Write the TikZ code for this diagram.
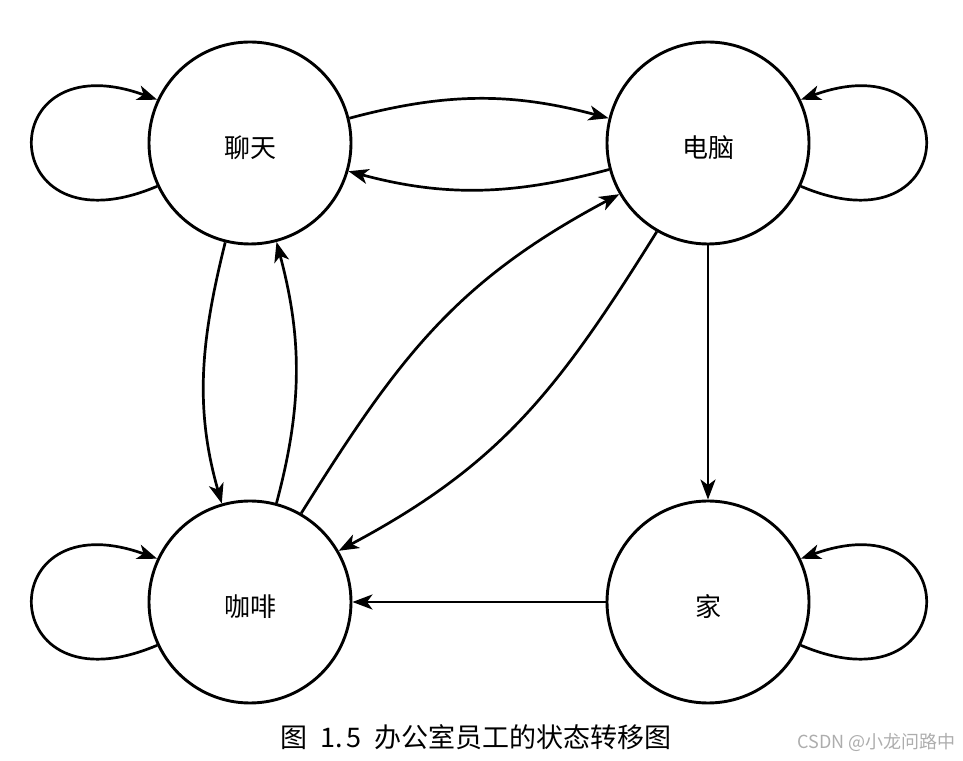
\documentclass[tikz,border=0pt]{standalone}
\usepackage{fontspec}
\newfontfamily\cjk{Noto Sans CJK SC}
\usetikzlibrary{arrows.meta}
\begin{document}
\begin{tikzpicture}[x=1pt,y=1pt,
  state/.style={circle, draw, line width=2.9pt, minimum size=202pt, inner sep=0pt,
    text height=30pt, text depth=0pt, font=\cjk\fontsize{26}{26}\selectfont},
  edge/.style={line width=2.7pt, -{Stealth[length=20pt,width=15pt,inset=5.5pt]}},
  caption/.style={font=\cjk\fontsize{27}{27}\selectfont}]
\useasboundingbox (0,0) rectangle (963,760);
\node[state] (A) at (250,617) {聊天};
\node[state] (B) at (708,617) {电脑};
\node[state] (C) at (250,158) {咖啡};
\node[state] (D) at (708,158) {家};
% between chat and computer
\draw[edge] (A.14) .. controls +(15:100) and +(165:100) .. (B.166);
\draw[edge] (B.195) .. controls +(195:100) and +(345:100) .. (A.344);
% chat <-> coffee
\draw[edge] (A.256) .. controls +(256:100) and +(106:100) .. (C.106);
\draw[edge] (C.75) .. controls +(75:100) and +(285:100) .. (A.285);
% coffee <-> computer
\draw[edge] (C.60) .. controls +(58:185) and +(208:185) .. (B.210);
\draw[edge] (B.240) .. controls +(238:185) and +(28:185) .. (C.30);
% computer -> home, home -> coffee
\draw[edge] (B.south) -- (D.north);
\draw[edge] (D.west) -- (C.east);
% self loops
\draw[edge] (A.205) .. controls +(203:178) and +(160:178) .. (A.155);
\draw[edge] (C.205) .. controls +(203:178) and +(160:178) .. (C.155);
\draw[edge] (B.335) .. controls +(337:178) and +(20:178) .. (B.25);
\draw[edge] (D.335) .. controls +(337:178) and +(20:178) .. (D.25);
% caption and watermark
\node[caption] (cap) at (476,23) {图\hspace{13pt}1.\hspace{3pt}5\hspace{13pt}办公室员工的状态转移图};
\node[anchor=east, text=black!32, font=\cjk\fontsize{18}{18}\selectfont] (wm) at (959,18) {CSDN @小龙问路中};
\end{tikzpicture}
\end{document}
